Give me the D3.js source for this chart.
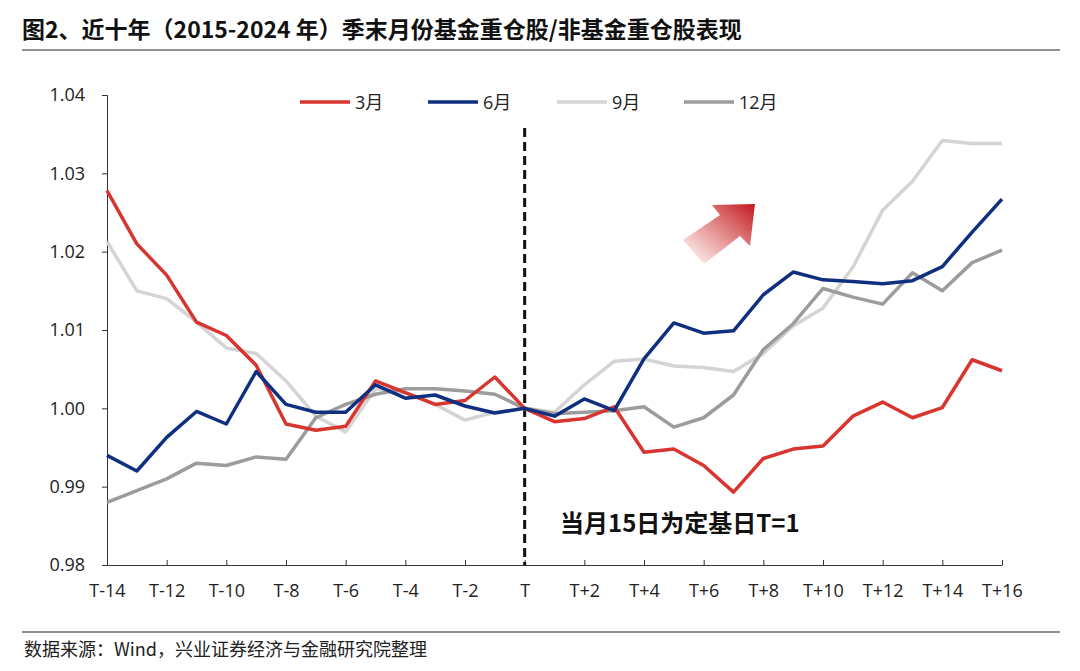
<!DOCTYPE html>
<html lang="zh">
<head>
<meta charset="UTF-8">
<script src="https://d3js.org/d3.v7.min.js"></script>
<style>
  body { margin: 0; background: #fff; font-family: "Noto Sans CJK SC", "Open Sans", sans-serif; }
  svg text { font-family: "Open Sans", "Noto Sans CJK SC", sans-serif; }
</style>
</head>
<body>
<svg id="chart" width="1080" height="671"></svg>
<script>
const xLabels = d3.range(-14, 17).map(i => i === 0 ? "T" : (i < 0 ? "T" + i : "T+" + i));
const tickLabels = xLabels.filter((d, i) => i % 2 === 0);
const seriesNames = ["3月", "6月", "9月", "12月"];
const seriesColors = ["#d83530", "#0f2f80", "#d4d4d4", "#9c9c9c"];
const mar = [1.0278,1.021,1.017,1.011,1.0093,1.0055,0.998,0.9972,0.9977,1.0035,1.002,1.0005,1.001,1.004,1.0,0.9983,0.9987,1.0002,0.9944,0.9948,0.9927,0.9893,0.9936,0.9948,0.9952,0.999,1.0008,0.9988,1.0001,1.0062,1.0048];
const jun = [0.994,0.992,0.9963,0.9996,0.998,1.0047,1.0005,0.9995,0.9995,1.003,1.0013,1.0017,1.0003,0.9994,1.0,0.999,1.0012,0.9997,1.0063,1.0109,1.0096,1.0099,1.0145,1.0174,1.0164,1.0162,1.0159,1.0163,1.0181,1.0225,1.0267];
const sep = [1.0213,1.015,1.014,1.011,1.0077,1.007,1.0035,0.999,0.997,1.0025,1.002,1.0005,0.9985,0.9995,1.0,0.9995,1.003,1.006,1.0063,1.0054,1.0052,1.0047,1.007,1.0105,1.0128,1.018,1.0253,1.029,1.0342,1.0338,1.0338];
const dec = [0.988,0.9895,0.991,0.993,0.9927,0.9938,0.9935,0.9988,1.0005,1.0018,1.0025,1.0025,1.0022,1.0018,1.0,0.9993,0.9995,0.9997,1.0002,0.9976,0.9988,1.0017,1.0075,1.0108,1.0153,1.0142,1.0133,1.0173,1.015,1.0186,1.0202];
const yTicks = [0.98, 0.99, 1.00, 1.01, 1.02, 1.03, 1.04];
const series = [mar, jun, sep, dec];
// draw order: light grey first so red/blue sit on top
const drawOrder = [2, 3, 0, 1];

const svg = d3.select("#chart");
const x = d3.scalePoint().domain(xLabels).range([107, 1002]);
const y = d3.scaleLinear().domain([0.98, 1.04]).range([565, 95]);

// title + rules
svg.append("text").attr("x", 22).attr("y", 38).attr("font-size", 23).attr("font-weight", "bold")
  .style("font-family", "'Noto Sans CJK SC'").attr("fill", "#111")
  .text("图2、近十年（2015-2024 年）季末月份基金重仓股/非基金重仓股表现");
svg.append("line").attr("x1", 22).attr("x2", 1060).attr("y1", 50).attr("y2", 50).attr("stroke", "#222").attr("stroke-width", 1.2);
svg.append("line").attr("x1", 22).attr("x2", 1060).attr("y1", 632).attr("y2", 632).attr("stroke", "#222").attr("stroke-width", 1.2);
svg.append("text").attr("x", 24).attr("y", 656).attr("font-size", 18).attr("fill", "#222")
  .style("font-family", "'Noto Sans CJK SC'").text("数据来源：Wind，兴业证券经济与金融研究院整理");

// axes
const yAxis = d3.axisLeft(y).tickValues(yTicks).tickFormat(d3.format(".2f")).tickSize(5);
svg.append("g").attr("transform", "translate(107,0)").call(yAxis)
  .call(g => g.selectAll("text").attr("font-size", 18).attr("fill", "#222").attr("dx", -14))
  .call(g => g.selectAll("line,path").attr("stroke", "#333"));
const xAxis = d3.axisBottom(x).tickValues(tickLabels).tickSize(-5).tickSizeOuter(0);
svg.append("g").attr("transform", "translate(0,565)").call(xAxis)
  .call(g => g.selectAll("text").attr("font-size", 18).attr("fill", "#222").attr("dy", 29))
  .call(g => g.selectAll("line,path").attr("stroke", "#333"));

// dashed T line
svg.append("line").attr("x1", x("T")).attr("x2", x("T")).attr("y1", 128).attr("y2", 565)
  .attr("stroke", "#111").attr("stroke-width", 3).attr("stroke-dasharray", "9,5");

// arrow with gradient
const defs = svg.append("defs");
const grad = defs.append("linearGradient").attr("id", "arr").attr("x1", "0%").attr("y1", "100%").attr("x2", "100%").attr("y2", "0%");
grad.append("stop").attr("offset", "0%").attr("stop-color", "#d83530").attr("stop-opacity", 0);
grad.append("stop").attr("offset", "100%").attr("stop-color", "#c0171c").attr("stop-opacity", 1);
svg.append("path").attr("d", "M683,240 L720,215 L712,205 L755,204 L750,246 L740,236 L704,264 Z").attr("fill", "url(#arr)");

// lines
const line = d3.line().x((d, i) => x(xLabels[i])).y(d => y(d));
drawOrder.forEach(k => {
  svg.append("path").datum(series[k]).attr("d", line).attr("fill", "none")
    .attr("stroke", seriesColors[k]).attr("stroke-width", 3.5).attr("stroke-linejoin", "round");
});

// legend
const legX = [300, 428, 557, 684];
seriesNames.forEach((n, k) => {
  svg.append("line").attr("x1", legX[k]).attr("x2", legX[k] + 50).attr("y1", 102).attr("y2", 102)
    .attr("stroke", seriesColors[k]).attr("stroke-width", 3.5);
  svg.append("text").attr("x", legX[k] + 55).attr("y", 109).attr("font-size", 18).attr("fill", "#222").text(n);
});

svg.append("text").attr("x", 560).attr("y", 532).attr("font-size", 24).attr("font-weight", "bold")
  .style("font-family", "'Noto Sans CJK SC'").attr("fill", "#111").text("当月15日为定基日T=1");
</script>
</body>
</html>
